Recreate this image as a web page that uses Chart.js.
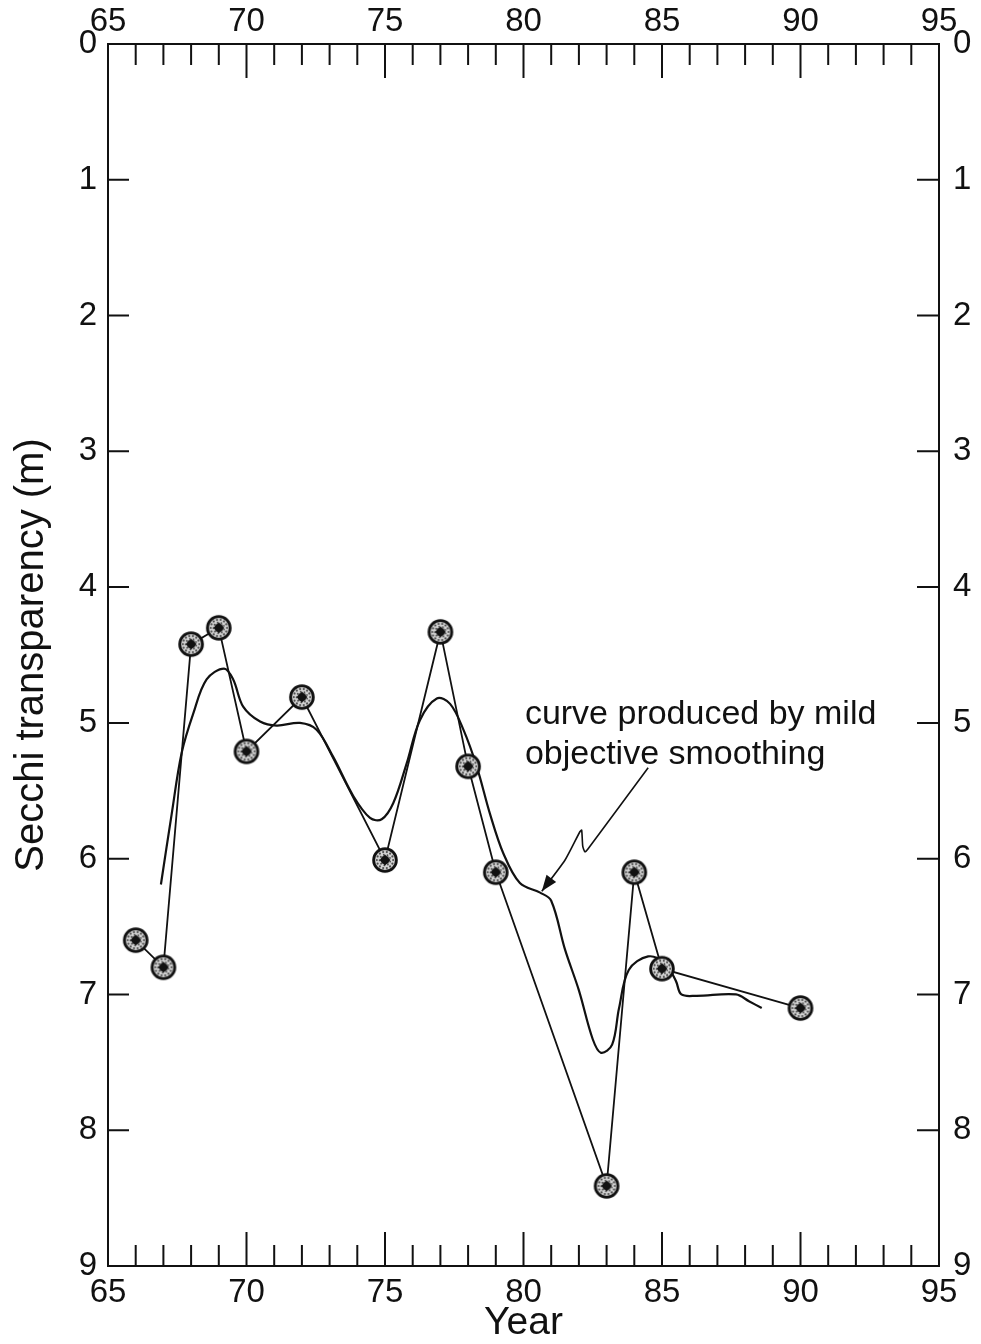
<!DOCTYPE html>
<html>
<head>
<meta charset="utf-8">
<title>Secchi transparency</title>
<script src="https://cdn.jsdelivr.net/npm/chart.js@4.4.1/dist/chart.umd.min.js"></script>
<style>
    html, body { margin: 0; padding: 0; background: #fff; }
    canvas { display: block; }
</style>
</head>
<body>
<canvas id="secchiChart" width="981" height="1344"></canvas>
<script>
// observed yearly Secchi depths (m)
const years = [66, 67, 68, 69, 70, 72, 75, 77, 78, 79, 83, 84, 85, 90];
const secchi = [6.6, 6.8, 4.42, 4.3, 5.21, 4.81, 6.01, 4.33, 5.32, 6.1, 8.41, 6.1, 6.81, 7.1];

// curve produced by mild objective smoothing
const smoothYears = [66.91, 67.3, 67.66, 68.08, 68.56, 69.19, 69.52, 69.88, 70.49, 71.09, 71.93, 72.53,
    73.13, 73.86, 74.46, 74.88, 75.3, 75.78, 76.26, 76.87, 77.35, 77.83, 78.31, 78.79, 79.27, 79.87,
    80.6, 81.0, 81.5, 82.0, 82.5, 82.8, 83.2, 83.45, 83.8, 84.5, 85.1, 85.5, 85.7, 86.25, 87.67, 88.14, 88.6];
const smoothDepth = [6.19, 5.67, 5.22, 4.93, 4.68, 4.6, 4.68, 4.88, 4.99, 5.02, 5.0, 5.05,
    5.25, 5.54, 5.7, 5.71, 5.59, 5.3, 4.98, 4.82, 4.86, 5.05, 5.32, 5.67, 5.96, 6.18,
    6.25, 6.31, 6.67, 6.97, 7.33, 7.43, 7.37, 7.1, 6.82, 6.72, 6.77, 6.9, 7.0, 7.01, 7.0, 7.05, 7.1];

// pointer from the note to the smoothed curve
const arrowYears = [84.5, 82.32, 82.22, 82.14, 82.1, 82.04, 81.5, 80.66];
const arrowDepth = [5.33, 5.93, 5.95, 5.91, 5.79, 5.8, 6.01, 6.24];

const noteLines = ['curve produced by mild', 'objective smoothing'];
const notePos = { x: 80.05, y: [5.01, 5.3] };

const xTickLabels = [65, 70, 75, 80, 85, 90, 95];
const yTickLabels = [0, 1, 2, 3, 4, 5, 6, 7, 8, 9];

const FONT = '"Liberation Sans", Arial, Helvetica, sans-serif';
const INK = '#111';

function makeMarker() {
    const c = document.createElement('canvas');
    c.width = 30;
    c.height = 30;
    const g = c.getContext('2d');
    g.translate(15, 15);
    g.fillStyle = '#d4d4d4';
    g.beginPath();
    g.arc(0, 0, 11.5, 0, Math.PI * 2);
    g.fill();
    // stipple
    g.fillStyle = '#4a4a4a';
    for (let k = 0; k < 14; k++) {
        const t = k * Math.PI / 7;
        g.beginPath();
        g.arc(Math.cos(t) * 8.2, Math.sin(t) * 8.2, 1.1, 0, Math.PI * 2);
        g.fill();
    }
    for (let k = 0; k < 9; k++) {
        const t = k * Math.PI * 2 / 9 + 0.3;
        g.beginPath();
        g.arc(Math.cos(t) * 5.4, Math.sin(t) * 5.4, 0.9, 0, Math.PI * 2);
        g.fill();
    }
    g.lineWidth = 2.8;
    g.strokeStyle = INK;
    g.beginPath();
    g.arc(0, 0, 11.4, 0, Math.PI * 2);
    g.stroke();
    g.fillStyle = INK;
    g.beginPath();
    g.moveTo(0, -5.5);
    g.lineTo(5.5, 0);
    g.lineTo(0, 5.5);
    g.lineTo(-5.5, 0);
    g.closePath();
    g.fill();
    g.fillRect(-3.5, -3.5, 7, 7);
    return c;
}

// inward tick marks on all four sides
const frameTicks = {
    id: 'frameTicks',
    afterDatasetsDraw(chart) {
        const { ctx, chartArea: a, scales } = chart;
        const x = scales.x, y = scales.y;
        ctx.save();
        ctx.strokeStyle = INK;
        ctx.lineWidth = 2;
        ctx.beginPath();
        for (let yr = 66; yr < 95; yr++) {
            const px = x.getPixelForValue(yr);
            const len = yr % 5 === 0 ? 34 : 21;
            ctx.moveTo(px, a.top);
            ctx.lineTo(px, a.top + len);
            ctx.moveTo(px, a.bottom);
            ctx.lineTo(px, a.bottom - len);
        }
        for (let d = 1; d < 9; d++) {
            const py = y.getPixelForValue(d);
            ctx.moveTo(a.left, py);
            ctx.lineTo(a.left + 21, py);
            ctx.moveTo(a.right, py);
            ctx.lineTo(a.right - 22, py);
        }
        ctx.stroke();
        ctx.restore();
    }
};

// the text note and arrowhead
const note = {
    id: 'note',
    afterDatasetsDraw(chart) {
        const { ctx, scales: { x, y } } = chart;
        ctx.save();
        ctx.fillStyle = INK;
        ctx.font = '34px ' + FONT;
        ctx.textAlign = 'left';
        ctx.textBaseline = 'alphabetic';
        noteLines.forEach((t, i) => {
            ctx.fillText(t, x.getPixelForValue(notePos.x), y.getPixelForValue(notePos.y[i]));
        });
        const n = arrowYears.length;
        const x1 = x.getPixelForValue(arrowYears[n - 2]), y1 = y.getPixelForValue(arrowDepth[n - 2]);
        const x2 = x.getPixelForValue(arrowYears[n - 1]), y2 = y.getPixelForValue(arrowDepth[n - 1]);
        ctx.translate(x2, y2);
        ctx.rotate(Math.atan2(y2 - y1, x2 - x1));
        ctx.beginPath();
        ctx.moveTo(0, 0);
        ctx.lineTo(-16, -6);
        ctx.lineTo(-16, 6);
        ctx.closePath();
        ctx.fill();
        ctx.restore();
    }
};

function xy(xs, ys) {
    return xs.map((v, i) => ({ x: v, y: ys[i] }));
}

const tickFont = { family: FONT, size: 33 };
const border = { display: true, color: INK, width: 2 };

new Chart(document.getElementById('secchiChart'), {
    type: 'scatter',
    data: {
        datasets: [
            {
                label: 'Observed',
                data: xy(years, secchi),
                showLine: true,
                borderColor: INK,
                borderWidth: 1.8,
                pointStyle: makeMarker(),
                pointRadius: 12,
                order: 0
            },
            {
                label: 'Smoothed',
                data: xy(smoothYears, smoothDepth),
                showLine: true,
                borderColor: INK,
                borderWidth: 2.2,
                tension: 0.35,
                pointRadius: 0,
                order: 1
            },
            {
                label: 'Pointer',
                data: xy(arrowYears, arrowDepth),
                showLine: true,
                borderColor: INK,
                borderWidth: 1.6,
                tension: 0.2,
                pointRadius: 0,
                order: 2
            }
        ]
    },
    options: {
        responsive: false,
        animation: false,
        layout: { padding: 0 },
        plugins: {
            legend: { display: false },
            tooltip: { enabled: false }
        },
        scales: {
            x: {
                type: 'linear',
                position: 'bottom',
                min: 65,
                max: 95,
                afterBuildTicks: s => { s.ticks = xTickLabels.map(v => ({ value: v })); },
                afterFit: s => { s.height = 78; },
                grid: { display: false, drawTicks: false },
                border: border,
                ticks: { font: tickFont, color: INK, padding: 7, maxRotation: 0, autoSkip: false },
                title: { display: true, text: 'Year', color: INK, font: { family: FONT, size: 39, lineHeight: 1.0 }, padding: { top: 0, bottom: 1 } }
            },
            x2: {
                type: 'linear',
                position: 'top',
                min: 65,
                max: 95,
                afterBuildTicks: s => { s.ticks = xTickLabels.map(v => ({ value: v })); },
                afterFit: s => { s.height = 44; },
                grid: { display: false, drawTicks: false },
                border: border,
                ticks: { font: tickFont, color: INK, padding: 2, maxRotation: 0, autoSkip: false }
            },
            y: {
                type: 'linear',
                position: 'left',
                reverse: true,
                min: 0,
                max: 9,
                afterBuildTicks: s => { s.ticks = yTickLabels.map(v => ({ value: v })); },
                afterFit: s => { s.width = 108; },
                grid: { display: false, drawTicks: false },
                border: border,
                ticks: { font: tickFont, color: INK, padding: 11 },
                title: { display: true, text: 'Secchi transparency (m)', color: INK, font: { family: FONT, size: 40 }, padding: { top: 8, bottom: 0 } }
            },
            y2: {
                type: 'linear',
                position: 'right',
                reverse: true,
                min: 0,
                max: 9,
                afterBuildTicks: s => { s.ticks = yTickLabels.map(v => ({ value: v })); },
                afterFit: s => { s.width = 42; },
                grid: { display: false, drawTicks: false },
                border: border,
                ticks: { font: tickFont, color: INK, padding: 14 }
            }
        }
    },
    plugins: [frameTicks, note]
});
</script>
</body>
</html>
